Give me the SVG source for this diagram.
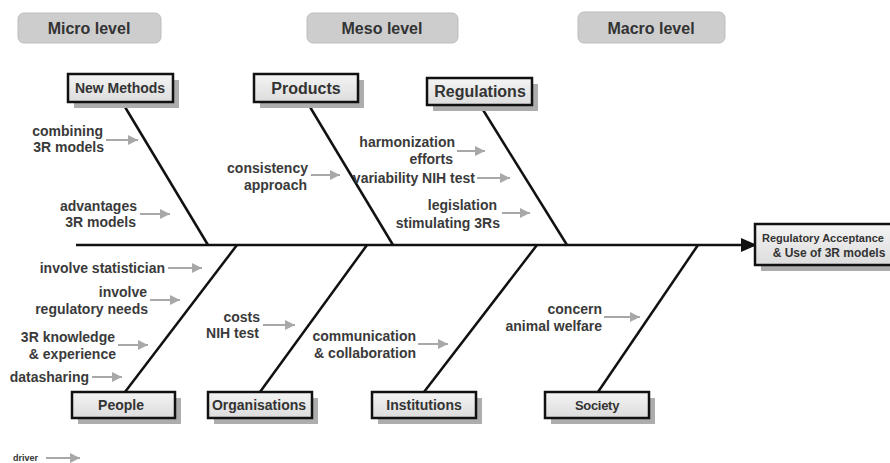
<svg xmlns="http://www.w3.org/2000/svg" width="890" height="463" viewBox="0 0 890 463">
<defs>
<linearGradient id="boxfill" x1="0" y1="0" x2="0" y2="1">
<stop offset="0" stop-color="#f4f4f4"/>
<stop offset="1" stop-color="#dcdcdc"/>
</linearGradient>
<marker id="garrow" markerUnits="userSpaceOnUse" markerWidth="10" markerHeight="10" viewBox="0 0 10 10" refX="10" refY="5" orient="auto">
<path d="M0,0 L10,5 L0,10 z" fill="#a8a8a8"/>
</marker>
<marker id="barrow" markerUnits="userSpaceOnUse" markerWidth="16" markerHeight="16" viewBox="0 0 16 16" refX="14" refY="8" orient="auto">
<path d="M0,1 L16,8 L0,15 z" fill="#111"/>
</marker>
</defs>
<style>
.hdr rect{fill:#cdcdcd;stroke:#bdbdbd;stroke-width:1}
.hdr text{font-family:"Liberation Sans",Arial,sans-serif;font-weight:bold;font-size:16px;fill:#333;text-anchor:middle}
.shadow{fill:#adadad}
.box{fill:url(#boxfill);stroke:#111;stroke-width:2.5}
.nt{font-family:"Liberation Sans",Arial,sans-serif;font-weight:bold;fill:#333;text-anchor:middle}
.lbl{font-family:"Liberation Sans",Arial,sans-serif;font-weight:bold;font-size:14px;fill:#3a3a3a;text-anchor:end}
.bone{stroke:#111;stroke-width:2.5;fill:none}
.ga{stroke:#a8a8a8;stroke-width:2;fill:none;marker-end:url(#garrow)}
</style>
<rect width="890" height="463" fill="#fff"/>

<g id="hdr-micro" class="hdr"><rect x="18" y="13" width="143" height="30" rx="6"/><text x="89" y="34">Micro level</text></g>
<g id="hdr-meso" class="hdr"><rect x="307" y="13" width="151" height="30" rx="6"/><text x="382" y="34">Meso level</text></g>
<g id="hdr-macro" class="hdr"><rect x="578" y="12" width="147" height="31" rx="6"/><text x="651" y="34">Macro level</text></g>

<g id="connectors">
<line class="bone" x1="76" y1="245" x2="755" y2="245" stroke-width="3" marker-end="url(#barrow)"/>
<line class="bone" x1="122" y1="102" x2="208" y2="245"/>
<line class="bone" x1="307" y1="102" x2="393" y2="245"/>
<line class="bone" x1="480" y1="105" x2="567" y2="245"/>
<line class="bone" x1="237" y1="245" x2="125" y2="392"/>
<line class="bone" x1="367" y1="245" x2="260" y2="392"/>
<line class="bone" x1="537" y1="245" x2="424" y2="392"/>
<line class="bone" x1="698" y1="245" x2="598" y2="392"/>
</g>

<g id="new-methods"><rect class="shadow" x="74" y="80" width="105" height="28"/><rect class="box" x="68" y="74" width="105" height="28"/><text class="nt" x="120" y="93" font-size="14">New Methods</text></g>
<g id="products"><rect class="shadow" x="260" y="80" width="104" height="28"/><rect class="box" x="254" y="74" width="104" height="28"/><text class="nt" x="306" y="94" font-size="16">Products</text></g>
<g id="regulations"><rect class="shadow" x="433" y="84" width="105" height="27"/><rect class="box" x="427" y="78" width="105" height="27"/><text class="nt" x="480" y="97" font-size="16">Regulations</text></g>
<g id="people"><rect class="shadow" x="78" y="398" width="103" height="26"/><rect class="box" x="72" y="392" width="103" height="26"/><text class="nt" x="121" y="410" font-size="14">People</text></g>
<g id="organisations"><rect class="shadow" x="214" y="398" width="104" height="26"/><rect class="box" x="208" y="392" width="104" height="26"/><text class="nt" x="259" y="410" font-size="14">Organisations</text></g>
<g id="institutions"><rect class="shadow" x="378" y="398" width="104" height="26"/><rect class="box" x="372" y="392" width="104" height="26"/><text class="nt" x="424" y="410" font-size="14">Institutions</text></g>
<g id="society"><rect class="shadow" x="551" y="398" width="104" height="26"/><rect class="box" x="545" y="392" width="104" height="26"/><text class="nt" x="597" y="410" font-size="13" letter-spacing="-0.3">Society</text></g>
<g id="result"><rect class="shadow" x="761" y="230" width="150" height="41"/><rect class="box" x="755" y="224" width="150" height="41"/><text class="nt" x="823" y="242" font-size="11">Regulatory Acceptance</text><text class="nt" x="829" y="257" font-size="12">&amp; Use of 3R models</text></g>

<g id="labels">
<text class="lbl" x="103" y="136">combining</text><text class="lbl" x="104" y="152">3R models</text>
<line class="ga" x1="106" y1="140" x2="138" y2="140"/>
<text class="lbl" x="137" y="211">advantages</text><text class="lbl" x="136" y="227">3R models</text>
<line class="ga" x1="140" y1="214" x2="170" y2="214"/>
<text class="lbl" x="308" y="173">consistency</text><text class="lbl" x="307" y="190">approach</text>
<line class="ga" x1="311" y1="175" x2="340" y2="175"/>
<text class="lbl" x="455" y="147">harmonization</text><text class="lbl" x="453" y="164">efforts</text>
<line class="ga" x1="457" y1="151" x2="485" y2="151"/>
<text class="lbl" x="475" y="183" font-size="13">variability NIH test</text>
<line class="ga" x1="477" y1="178" x2="510" y2="178"/>
<text class="lbl" x="497" y="210">legislation</text><text class="lbl" x="500" y="228">stimulating 3Rs</text>
<line class="ga" x1="502" y1="213" x2="530" y2="213"/>
<text class="lbl" x="165" y="273">involve statistician</text>
<line class="ga" x1="168" y1="268" x2="202" y2="268"/>
<text class="lbl" x="147" y="297">involve</text><text class="lbl" x="148" y="314">regulatory needs</text>
<line class="ga" x1="150" y1="300" x2="180" y2="300"/>
<text class="lbl" x="115" y="342">3R knowledge</text><text class="lbl" x="116" y="359">&amp; experience</text>
<line class="ga" x1="118" y1="345" x2="148" y2="345"/>
<text class="lbl" x="89" y="382">datasharing</text>
<line class="ga" x1="92" y1="377" x2="122" y2="377"/>
<text class="lbl" x="260" y="322">costs</text><text class="lbl" x="259" y="338">NIH test</text>
<line class="ga" x1="263" y1="325" x2="295" y2="325"/>
<text class="lbl" x="416" y="341">communication</text><text class="lbl" x="416" y="358">&amp; collaboration</text>
<line class="ga" x1="418" y1="344" x2="448" y2="344"/>
<text class="lbl" x="602" y="314">concern</text><text class="lbl" x="602" y="331">animal welfare</text>
<line class="ga" x1="604" y1="317" x2="640" y2="317"/>
</g>

<g id="legend">
<text x="13" y="461" font-family="'Liberation Sans',Arial,sans-serif" font-weight="bold" font-size="9" fill="#333">driver</text>
<line class="ga" x1="46" y1="458" x2="80" y2="458" stroke-width="1.5"/>
</g>
</svg>
